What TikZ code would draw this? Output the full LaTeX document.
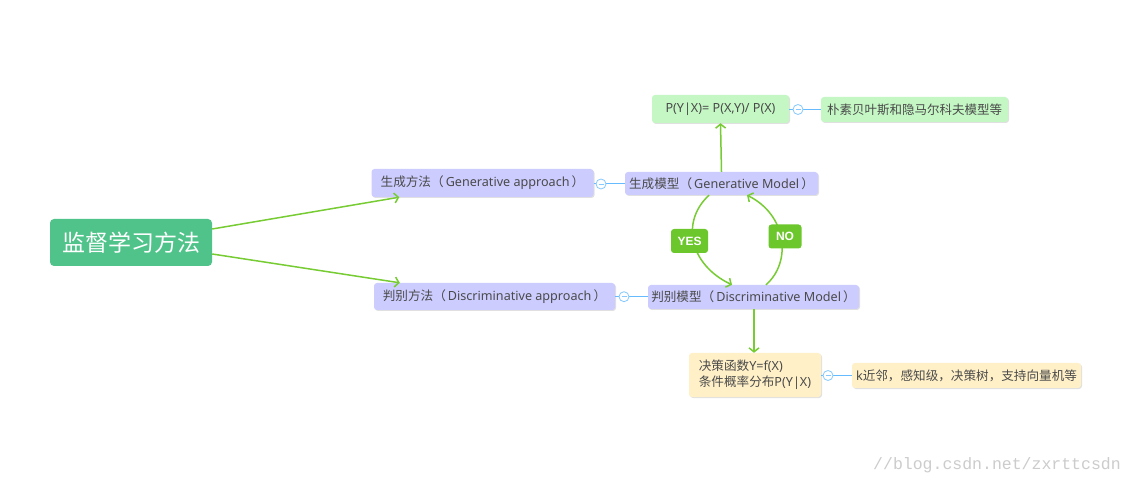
\documentclass[tikz,border=0pt]{standalone}
\usepackage{fontspec}
\setmainfont{Noto Sans}
\newfontfamily\cjk{Noto Sans CJK SC}
\newfontfamily\lblfont{Liberation Sans}
\newfontfamily\wmfont{Liberation Mono}
\usetikzlibrary{arrows.meta,shadows,positioning}
\definecolor{lav}{HTML}{CCCCFF}
\definecolor{lgreen}{HTML}{C4F7C4}
\definecolor{lyellow}{HTML}{FFF0C8}
\definecolor{rootgreen}{HTML}{4FC38A}
\definecolor{arrgreen}{HTML}{77CC33}
\definecolor{lblgreen}{HTML}{6CC72C}
\definecolor{linkblue}{HTML}{66BBFF}
\definecolor{txtgray}{HTML}{4A4A4A}
\tikzset{
  box/.style={rounded corners=3pt, inner sep=0pt, text=txtgray, font=\fontsize{12.6}{16}\selectfont,
    drop shadow={shadow xshift=1pt, shadow yshift=-1pt, fill=black, opacity=0.12}},
  lavbox/.style={box, fill=lav},
  greenbox/.style={box, fill=lgreen},
  yelbox/.style={box, fill=lyellow},
  garrow/.style={draw=arrgreen, line width=1.5pt, -{Straight Barb[length=4pt,width=10pt,line width=1.5pt]}},
  blink/.style={draw=linkblue, line width=1pt},
  mcirc/.style={circle, draw=linkblue!80, fill=white, line width=0.8pt, minimum size=10pt, inner sep=0pt},
  lbl/.style={rounded corners=3pt, fill=lblgreen, text=white, font=\lblfont\bfseries\fontsize{12}{13}\selectfont, inner sep=0pt}
}
\newcommand{\minuscirc}[2]{\node[mcirc] (#1) at #2 {}; \draw[linkblue!80, line width=0.8pt] ([xshift=-2.5pt]#1.center) -- ([xshift=2.5pt]#1.center);}
\begin{document}
\begin{tikzpicture}[x=1pt,y=-1pt]
\useasboundingbox[fill=white] (0,0) rectangle (1133,486);

\node[rounded corners=4pt, fill=rootgreen, text=white, minimum width=162pt, minimum height=47pt, inner sep=0pt,
  font=\cjk\fontsize{23}{26}\selectfont] (root) at (131,242.5) {监督学习方法};

\node[lavbox, minimum width=222pt, minimum height=28pt] (genA) at (482.5,183) {{\cjk 生成方法（}\,Generative approach\,{\cjk ）}};
\node[lavbox, minimum width=241pt, minimum height=27pt] (discA) at (494.5,296.5) {{\cjk 判别方法（}\,Discriminative approach\,{\cjk ）}};
\node[lavbox, minimum width=193pt, minimum height=23pt] (genM) at (721.5,183.5) {{\cjk 生成模型（}\,Generative Model\,{\cjk ）}};
\node[lavbox, minimum width=211pt, minimum height=24pt] (discM) at (753.5,297) {{\cjk 判别模型（}\,Discriminative Model\,{\cjk ）}};
\node[greenbox, minimum width=137pt, minimum height=28pt] (pbox) at (720.5,109) {P(Y|X)= P(X,Y)/ P(X)};
\node[greenbox, minimum width=187pt, minimum height=25pt, font=\cjk\fontsize{12.5}{15}\selectfont] (naive) at (914.5,109.5) {朴素贝叶斯和隐马尔科夫模型等};
\node[yelbox, minimum width=132pt, minimum height=44pt, align=left] (dec) at (755,375) {{\cjk 决策函数}Y=f(X)\\{\cjk 条件概率分布}P(Y|X)};
\node[yelbox, minimum width=229pt, minimum height=25pt] (knn) at (966.5,375.5) {k{\cjk 近邻，感知级，决策树，支持向量机等}};

% green arrows
\draw[garrow] ([yshift=13.5pt]root.east) -- ([xshift=28pt]genA.south west);
\draw[garrow] ([yshift=-11.5pt]root.east) -- ([xshift=26pt]discA.north west);
\draw[garrow] (genM.north) -- (pbox.south);
\draw[garrow] ([xshift=0.5pt]discM.south) -- ([xshift=-1pt]dec.north);

\coordinate (ys) at ([xshift=-12.5pt]genM.south);
\coordinate (ye) at ([xshift=-21.5pt]discM.north);
\draw[garrow] (ys) .. controls (680,222) and (690,265) .. (ye);
\coordinate (ns) at ([xshift=12.5pt]discM.north);
\coordinate (ne) at ([xshift=25.5pt]genM.south);
\draw[garrow] (ns) .. controls (792,262) and (787,215) .. (ne);

\node[lbl, minimum width=37pt, minimum height=24pt] (yes) at (689.5,241) {YES};
\node[lbl, minimum width=33pt, minimum height=24pt] (no) at (785,236.5) {NO};

% blue links
\draw[blink] (genA.east |- 0,184) -- (genM.west |- 0,184);
\minuscirc{c1}{(601,184)}
\draw[blink] (pbox.east |- 0,109.5) -- (naive.west |- 0,109.5);
\minuscirc{c2}{(798,109.5)}
\draw[blink] (discA.east |- 0,296.7) -- (discM.west |- 0,296.7);
\minuscirc{c3}{(624,296.7)}
\draw[blink] (dec.east |- 0,375.5) -- (knn.west |- 0,375.5);
\minuscirc{c4}{(828,375.5)}

\node[text=black!20, font=\wmfont\fontsize{16.5}{18}\selectfont, inner sep=0pt, anchor=west] (wm) at (873,465) {//blog.csdn.net/zxrttcsdn};
\end{tikzpicture}
\end{document}
